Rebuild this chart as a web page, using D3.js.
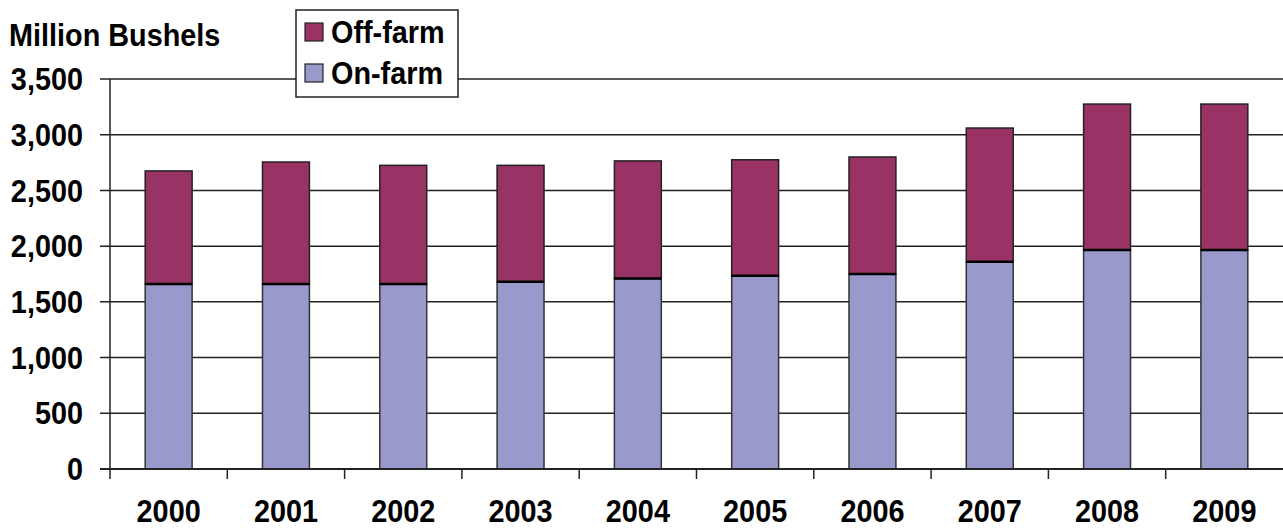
<!DOCTYPE html>
<html>
<head>
<meta charset="utf-8">
<script src="https://cdn.jsdelivr.net/npm/d3@7"></script>
<style>
  body { margin: 0; background: #fff; }
  text { font-family: "Liberation Sans", Arial, sans-serif; font-weight: bold; fill: #000; }
</style>
</head>
<body>
<svg id="chart" width="1283" height="529"></svg>
<script>
// data
var years = ["2000", "2001", "2002", "2003", "2004", "2005", "2006", "2007", "2008", "2009"];
var onFarm = [1660, 1660, 1660, 1680, 1710, 1735, 1750, 1860, 1965, 1965];
var offFarm = [1015, 1095, 1065, 1045, 1055, 1040, 1050, 1200, 1310, 1310];
var yTicks = [0, 500, 1000, 1500, 2000, 2500, 3000, 3500];
var seriesNames = ["Off-farm", "On-farm"];
var seriesColors = ["#993366", "#9999cc"];

var fontSize = "31px";
var squeeze = 0.93; // the original lettering is a bit narrower than Liberation
var margin = { left: 110, top: 79, right: 0, bottom: 60 };
var width = 1283 - margin.left - margin.right;
var height = 469 - margin.top;

// place a text at (x, y) squeezed horizontally
function place(px, py) {
    return "translate(" + px + "," + py + ") scale(" + squeeze + ",1)";
}

var svg = d3.select("#chart");
var g = svg.append("g").attr("transform", "translate(" + margin.left + "," + margin.top + ")");

var x = d3.scaleBand().domain(years).range([0, width]).paddingInner(0.6).paddingOuter(0.3);
var xOuter = d3.scaleBand().domain(years).range([0, width]);
var y = d3.scaleLinear().domain([0, 3500]).range([height, 0]);

// gridlines
g.selectAll(".grid")
    .data(yTicks)
    .enter().append("line")
    .attr("x1", -10).attr("x2", width)
    .attr("y1", function (d) { return y(d); })
    .attr("y2", function (d) { return y(d); })
    .attr("stroke", "#222")
    .attr("stroke-width", 1.5);

// y labels
g.selectAll(".ylab")
    .data(yTicks)
    .enter().append("text")
    .attr("transform", function (d) { return place(-27, y(d)); })
    .attr("dy", "0.36em")
    .attr("text-anchor", "end")
    .style("font-size", fontSize)
    .text(function (d) { return d3.format(",")(d); });

// stacked bars
var rows = years.map(function (yr, i) { return { year: yr, on: onFarm[i], off: offFarm[i] }; });

var bars = g.selectAll(".bar").data(rows).enter().append("g");

bars.append("rect")
    .attr("x", function (d) { return x(d.year); })
    .attr("width", x.bandwidth())
    .attr("y", function (d) { return y(d.on); })
    .attr("height", function (d) { return y(0) - y(d.on); })
    .attr("fill", seriesColors[1])
    .attr("stroke", "#333")
    .attr("stroke-width", 1.5);

bars.append("rect")
    .attr("x", function (d) { return x(d.year); })
    .attr("width", x.bandwidth())
    .attr("y", function (d) { return y(d.on + d.off); })
    .attr("height", function (d) { return y(d.on) - y(d.on + d.off); })
    .attr("fill", seriesColors[0])
    .attr("stroke", "#222")
    .attr("stroke-width", 1.5);

bars.append("line")
    .attr("x1", function (d) { return x(d.year); })
    .attr("x2", function (d) { return x(d.year) + x.bandwidth(); })
    .attr("y1", function (d) { return y(d.on); })
    .attr("y2", function (d) { return y(d.on); })
    .attr("stroke", "#000")
    .attr("stroke-width", 2.5);

// axes
g.append("line").attr("x1", 0).attr("x2", 0).attr("y1", 0).attr("y2", height + 10)
    .attr("stroke", "#222").attr("stroke-width", 1.5);
g.append("line").attr("x1", -10).attr("x2", width).attr("y1", height).attr("y2", height)
    .attr("stroke", "#222").attr("stroke-width", 2);

g.selectAll(".xtick")
    .data(years.slice(1))
    .enter().append("line")
    .attr("x1", function (d) { return xOuter(d); })
    .attr("x2", function (d) { return xOuter(d); })
    .attr("y1", height).attr("y2", height + 10)
    .attr("stroke", "#222").attr("stroke-width", 1.5);

g.selectAll(".xlab")
    .data(years)
    .enter().append("text")
    .attr("transform", function (d) { return place(x(d) + x.bandwidth() / 2, height + 53); })
    .attr("text-anchor", "middle")
    .style("font-size", fontSize)
    .text(function (d) { return d; });

// title
svg.append("text")
    .attr("transform", place(9, 46))
    .style("font-size", fontSize)
    .text("Million Bushels");

// legend
var legend = svg.append("g").attr("transform", "translate(296,10)");
legend.append("rect")
    .attr("width", 162).attr("height", 87)
    .attr("fill", "#fff").attr("stroke", "#222").attr("stroke-width", 1.5);

var items = legend.selectAll(".item")
    .data(seriesNames)
    .enter().append("g")
    .attr("transform", function (d, i) { return "translate(9," + (22 + i * 41) + ")"; });

items.append("rect")
    .attr("y", -9)
    .attr("width", 18).attr("height", 18)
    .attr("fill", function (d, i) { return seriesColors[i]; })
    .attr("stroke", "#222").attr("stroke-width", 1.2);

items.append("text")
    .attr("transform", place(26, 0))
    .attr("dy", "0.36em")
    .style("font-size", fontSize)
    .text(function (d) { return d; });
</script>
</body>
</html>
